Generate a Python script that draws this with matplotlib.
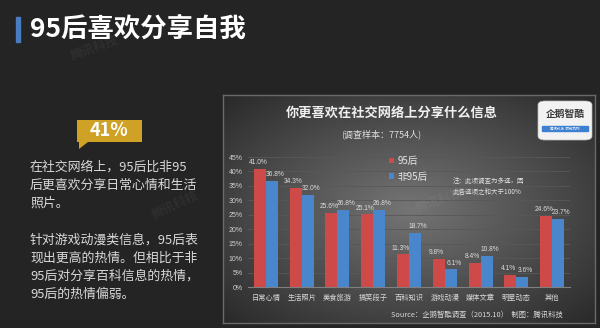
# -*- coding: utf-8 -*-
"""
Bar chart: what do post-95s like to share on social networks.
"""
import numpy as np
import matplotlib
matplotlib.use("Agg")
import matplotlib.pyplot as plt
from matplotlib.patches import Rectangle, Polygon, FancyBboxPatch

plt.rcParams['font.family'] = ['Noto Sans CJK SC', 'DejaVu Sans']

# data
categories = [u'日常心情', u'生活照片', u'美食旅游', u'搞笑段子', u'百科知识',
              u'游戏动漫', u'媒体文章', u'明星动态', u'其他']
post95 = [41.0, 34.3, 25.6, 25.1, 11.3, 9.8, 8.4, 4.1, 24.6]
non95 = [36.8, 32.0, 26.8, 26.8, 18.7, 6.1, 10.8, 3.6, 23.7]
series_names = [u'95后', u'非95后']
yticks = [0, 5, 10, 15, 20, 25, 30, 35, 40, 45]

para1 = [u'在社交网络上，95后比非95', u'后更喜欢分享日常心情和生活', u'照片。']
para2 = [u'针对游戏动漫类信息，95后表', u'现出更高的热情。但相比于非',
         u'95后对分享百科信息的热情，', u'95后的热情偏弱。']

W, H = 600, 328
BG = '#242424'
RED = '#cd4a48'
BLUE = '#4a86cc'


def fx(x):
    return x / float(W)


def fy(y):
    return 1 - y / float(H)


def rect(x0, y0, x1, y1):
    # pixel box (top-left origin) -> figure axes rect
    return [fx(x0), fy(y1), (x1 - x0) / float(W), (y1 - y0) / float(H)]


fig = plt.figure(figsize=(6, 3.28), dpi=100, facecolor=BG)

# page title
fig.patches.append(Rectangle((fx(16), fy(42)), 4 / W, 25 / H,
                             transform=fig.transFigure, color='#4a7cc0'))
fig.text(fx(30), fy(29), u'95后喜欢分享自我', fontsize=19, fontweight='bold',
         color='white', va='center', ha='left')

# faint watermarks
for x, y, r in [(95, 48, 20), (175, 205, 25), (440, 200, 20)]:
    fig.text(fx(x), fy(y), u'腾讯科技', fontsize=9, color='white', alpha=0.05,
             rotation=r, ha='center', va='center', fontweight='bold')

# gold callout
box = Polygon([(fx(77), fy(120)), (fx(142), fy(120)), (fx(142), fy(142)),
               (fx(88), fy(142)), (fx(79), fy(149)), (fx(79), fy(142)),
               (fx(77), fy(142))], closed=True, transform=fig.transFigure,
              facecolor='#cfa225', edgecolor='none')
fig.patches.append(box)
fig.text(fx(109), fy(131), '41%', fontsize=13, fontweight='bold',
         color='white', ha='center', va='center')

for i, line in enumerate(para1):
    fig.text(fx(30), fy(167 + 18 * i), line, fontsize=9.3, color='#d9d9d9',
             va='center', ha='left')
for i, line in enumerate(para2):
    fig.text(fx(30), fy(240 + 18 * i), line, fontsize=9.3, color='#d9d9d9',
             va='center', ha='left')

# chart panel with a soft radial gradient
panel = fig.add_axes(rect(223, 95, 595, 323))
gx, gy = np.meshgrid(np.linspace(-1, 1, 200), np.linspace(-1, 1, 120))
rr = np.sqrt(gx ** 2 + gy ** 2)
panel.imshow(-rr, cmap='gray', vmin=-2.2, vmax=2.6, aspect='auto',
             extent=[0, 1, 0, 1])
panel.set_xticks([])
panel.set_yticks([])
for s in panel.spines.values():
    s.set_color('#6a6a6a')
    s.set_linewidth(1)

fig.text(fx(392), fy(113), u'你更喜欢在社交网络上分享什么信息', fontsize=9.5,
         fontweight='bold', color='#f0f0f0', ha='center', va='center')
fig.text(fx(381), fy(134), u'(调查样本：7754人)', fontsize=6.5,
         color='#e0e0e0', ha='center', va='center')

# logo
logo = FancyBboxPatch((fx(538), fy(140)), 54 / W, 39 / H,
                      boxstyle='round,pad=0,rounding_size=0.012',
                      transform=fig.transFigure, facecolor='#f2f2f2',
                      edgecolor='#bbbbbb', lw=0.5)
fig.patches.append(logo)
fig.text(fx(565), fy(114), u'企鹅智酷', fontsize=7, fontweight='bold',
         color='#3a3a3a', ha='center', va='center')
fig.patches.append(Rectangle((fx(542), fy(131)), 46 / W, 5 / H,
                             transform=fig.transFigure, color='#3d7fd0'))
fig.text(fx(565), fy(128.5), u'腾讯科技  研究机构', fontsize=2.5,
         color='white', ha='center', va='center')

# bars
ax = fig.add_axes(rect(248, 157, 570, 287))
ax.set_facecolor('none')
x = np.arange(len(categories))
w = 0.335
b1 = ax.bar(x - w / 2, post95, w, color=RED, label=series_names[0], zorder=3)
b2 = ax.bar(x + w / 2, non95, w, color=BLUE, label=series_names[1], zorder=3)

# value labels, nudged apart like the original
for bars, vals, dx in ((b1, post95, -1.5), (b2, non95, 2.2)):
    for bar, v in zip(bars, vals):
        ax.annotate('%.1f%%' % v, (bar.get_x() + bar.get_width() / 2, v),
                    xytext=(dx, 2), textcoords='offset points',
                    ha='center', va='bottom', fontsize=4.8,
                    family='Liberation Sans', color='#dddddd')

ax.set_xlim(-0.5, len(categories) - 0.5)
ax.set_ylim(0, 45)
ax.set_yticks(yticks)
ax.set_yticklabels(['%d%%' % v for v in yticks], family='Liberation Sans')
ax.set_xticks(x)
ax.set_xticklabels(categories)
ax.tick_params(axis='y', length=0, pad=4, labelsize=5, labelcolor='#d0d0d0')
ax.tick_params(axis='x', length=0, pad=5, labelsize=5.2, labelcolor='#d8d8d8')
ax.grid(axis='y', color='#585858', lw=0.6, zorder=0)
for name in ('top', 'right', 'left'):
    ax.spines[name].set_visible(False)
ax.spines['bottom'].set_color('#808080')
ax.spines['bottom'].set_zorder(4)

ax.legend(handles=[b1, b2], loc='upper left', frameon=False,
          bbox_to_anchor=(fx(389), fy(156)), bbox_transform=fig.transFigure,
          fontsize=7, labelcolor='#e6e6e6', handlelength=0.55,
          handleheight=0.55, handletextpad=0.3, labelspacing=0.6,
          borderpad=0, borderaxespad=0)

fig.text(fx(453), fy(181), u'注：此项调查为多选，因', fontsize=4.7,
         color='#e0e0e0', ha='left', va='center', style='italic')
fig.text(fx(453), fy(192), u'此各选项之和大于100%', fontsize=4.7,
         color='#e0e0e0', ha='left', va='center', style='italic')
fig.text(fx(563), fy(315), u'Source：企鹅智酷调查（2015.10）  制图：腾讯科技',
         fontsize=5.3, color='#d8d8d8', ha='right', va='center', style='italic')

fig.savefig('out.png', dpi=100, facecolor=BG)
